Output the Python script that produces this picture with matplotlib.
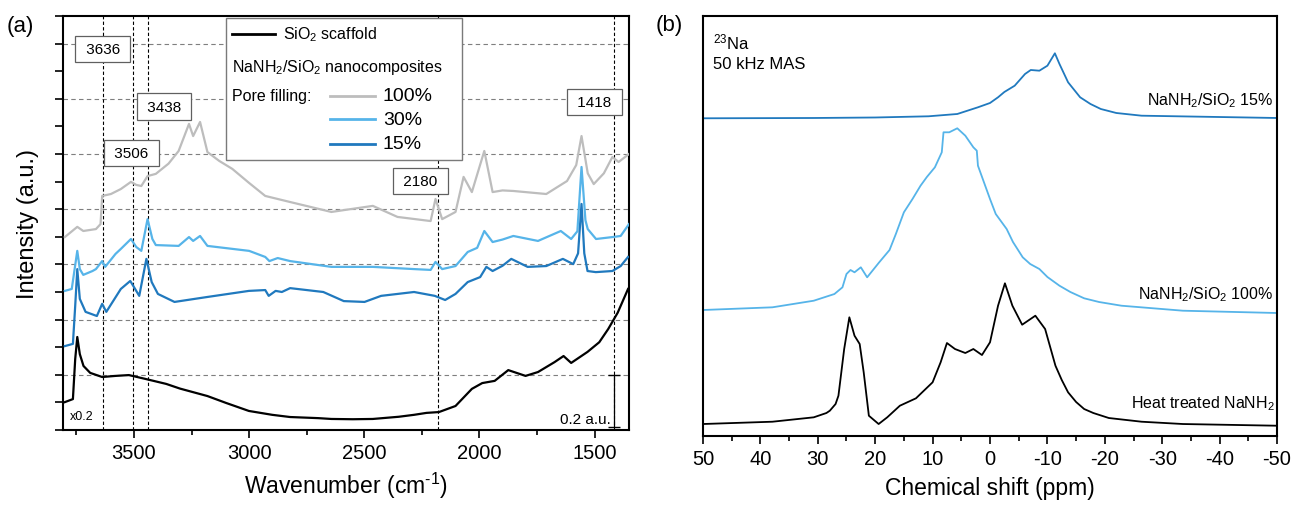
import matplotlib
matplotlib.use("Agg")
import matplotlib.pyplot as plt
from matplotlib.patches import Rectangle
from matplotlib.ticker import MultipleLocator, NullFormatter

plt.rcParams["font.family"] = ["Liberation Sans", "DejaVu Sans"]
plt.rcParams["mathtext.fontset"] = "custom"
plt.rcParams["mathtext.rm"] = "Liberation Sans"
plt.rcParams["mathtext.it"] = "Liberation Sans:italic"
plt.rcParams["axes.unicode_minus"] = False

# ---- panel (a): DRIFTS spectra -------------------------------------------
sio2_x = [3800, 3765, 3755, 3746, 3735, 3719, 3690, 3638, 3580, 3522, 3450,
          3360, 3300, 3181, 3100, 3001, 2900, 2822, 2700, 2643, 2550, 2463,
          2350, 2284, 2230, 2176, 2104, 2033, 1988, 1934, 1875, 1800, 1746,
          1674, 1635, 1602, 1531, 1480, 1441, 1400, 1355]
sio2_y = [0.101, 0.112, 0.257, 0.337, 0.275, 0.232, 0.207, 0.192, 0.196,
          0.199, 0.185, 0.167, 0.150, 0.123, 0.098, 0.069, 0.055, 0.047,
          0.043, 0.040, 0.039, 0.040, 0.048, 0.055, 0.062, 0.065, 0.087,
          0.149, 0.170, 0.178, 0.217, 0.196, 0.210, 0.246, 0.268, 0.243,
          0.283, 0.318, 0.366, 0.425, 0.511]

pf100_x = [3800, 3746, 3720, 3665, 3645, 3638, 3600, 3557, 3513, 3490, 3468,
           3441, 3405, 3350, 3306, 3261, 3243, 3213, 3181, 3130, 3073, 3000,
           2930, 2822, 2643, 2463, 2356, 2212, 2191, 2162, 2104, 2069, 2033,
           1979, 1943, 1900, 1853, 1710, 1620, 1580, 1557, 1530, 1504, 1460,
           1423, 1396, 1351]
pf100_y = [0.699, 0.736, 0.721, 0.728, 0.746, 0.848, 0.855, 0.873, 0.899,
           0.888, 0.884, 0.920, 0.928, 0.965, 1.011, 1.109, 1.065, 1.116,
           1.007, 0.975, 0.946, 0.895, 0.848, 0.826, 0.790, 0.812, 0.772,
           0.757, 0.837, 0.764, 0.790, 0.917, 0.862, 1.011, 0.862, 0.868,
           0.866, 0.855, 0.902, 0.960, 1.065, 0.930, 0.891, 0.930, 0.989,
           0.971, 1.000]

pf30_x = [3800, 3770, 3746, 3735, 3720, 3680, 3665, 3638, 3625, 3580, 3557,
          3513, 3490, 3468, 3441, 3420, 3405, 3306, 3261, 3243, 3213, 3181,
          3000, 2930, 2912, 2876, 2822, 2643, 2463, 2284, 2212, 2191, 2162,
          2104, 2051, 2010, 1979, 1943, 1900, 1853, 1746, 1647, 1602, 1575,
          1557, 1540, 1530, 1494, 1423, 1387, 1351]
pf30_y = [0.504, 0.511, 0.649, 0.583, 0.562, 0.576, 0.583, 0.612, 0.591,
          0.638, 0.656, 0.692, 0.663, 0.649, 0.764, 0.692, 0.670, 0.667,
          0.699, 0.685, 0.703, 0.667, 0.649, 0.627, 0.612, 0.623, 0.612,
          0.591, 0.591, 0.583, 0.580, 0.609, 0.583, 0.594, 0.645, 0.660,
          0.721, 0.681, 0.690, 0.703, 0.685, 0.721, 0.692, 0.720, 0.953,
          0.760, 0.728, 0.692, 0.699, 0.703, 0.746]

pf15_x = [3800, 3765, 3755, 3746, 3735, 3710, 3661, 3638, 3620, 3557, 3516,
          3477, 3446, 3423, 3396, 3324, 3181, 3001, 2930, 2915, 2885, 2858,
          2822, 2678, 2589, 2499, 2427, 2284, 2194, 2149, 2104, 2051, 1997,
          1970, 1943, 1900, 1862, 1791, 1710, 1638, 1593, 1572, 1557, 1545,
          1531, 1495, 1423, 1387, 1355]
pf15_y = [0.304, 0.312, 0.450, 0.583, 0.475, 0.428, 0.413, 0.457, 0.428,
          0.511, 0.540, 0.486, 0.620, 0.536, 0.493, 0.464, 0.482, 0.504,
          0.507, 0.486, 0.504, 0.500, 0.514, 0.500, 0.467, 0.464, 0.486,
          0.500, 0.486, 0.471, 0.493, 0.536, 0.554, 0.591, 0.576, 0.595,
          0.620, 0.591, 0.594, 0.620, 0.601, 0.640, 0.819, 0.640, 0.576,
          0.572, 0.576, 0.594, 0.627]

peak_lines = [3636, 3506, 3438, 2180, 1418]
peak_label_x = [3635, 3511, 3369, 2255, 1502]
peak_label_y = [1.379, 1.004, 1.172, 0.902, 1.188]

# ---- panel (b): 23Na MAS NMR ----------------------------------------------
heat_x = [50, 37.9, 30.7, 28.5, 27.9, 26.9, 26.4, 25.4, 24.5, 23.6, 22.7,
          22.0, 21.1, 19.4, 17.9, 15.7, 12.9, 10.0, 8.6, 7.5, 6.1, 4.3, 2.9,
          1.4, 0.0, -1.4, -2.6, -3.9, -5.6, -7.9, -9.6, -11.4, -12.5, -13.6,
          -15.0, -16.4, -18.0, -20.7, -26.4, -33.6, -50]
heat_y = [425, 422.7, 418.3, 414, 411.7, 405, 396.7, 350, 318.3, 336.7, 345,
          373.3, 416.7, 425, 418.3, 406.7, 399.3, 383.3, 363.3, 344, 350, 354,
          350, 356, 343.3, 306.7, 284.3, 306.7, 325.7, 316.7, 330, 366.7,
          381, 393.3, 403, 410, 414, 419, 422.7, 425, 426.7]

nmr100_x = [50, 37.9, 30.7, 27.1, 25.7, 25.0, 24.3, 23.6, 22.5, 21.4, 19.3,
            17.5, 16.4, 15.0, 13.5, 12.1, 11.0, 9.6, 8.4, 8.1, 7.1, 5.7, 4.3,
            2.9, 2.3, 2.1, 0.0, -1.0, -2.9, -4.0, -5.7, -7.0, -8.6, -10.0,
            -12.1, -14.0, -16.4, -19.0, -22.9, -33.6, -50]
nmr100_y = [311, 308.3, 301.7, 295, 288.3, 275, 271, 273.3, 268.3, 278.3,
            263.3, 251, 235, 213.3, 200, 186.7, 178, 168.3, 153.3, 133.3,
            133.3, 129.3, 136.7, 148.3, 151.7, 166.7, 200, 215, 230, 243,
            258.3, 265, 270, 278, 286.7, 293, 299.3, 303, 306.7, 311.7, 314]

nmr15_x = [50, 30.7, 20.0, 10.7, 5.7, 2.1, 0.0, -1.4, -2.5, -4.3, -6.1, -7.1,
           -8.6, -10.0, -11.3, -12.1, -13.6, -15.7, -17.5, -19.3, -22.0,
           -26.4, -50]
nmr15_y = [119.3, 119, 118.5, 117.3, 115, 108.3, 104, 98.3, 93, 86.7, 75, 71,
           71.7, 66.7, 54.3, 65, 83.3, 98.3, 105, 110, 114, 116.7, 119]

BLACK = "#000000"
GRAY = "#bdbdbd"
LIGHT = "#56b4e9"
DARK = "#2079be"


def nmr(vals):
    # pixel-like heights measured from the axis bottom
    return [(437 - v) / 100 for v in vals]


fig = plt.figure(figsize=(12.91, 5.10), dpi=100)
ax = fig.add_axes([0.0488, 0.1549, 0.4384, 0.8118])
bx = fig.add_axes([0.5445, 0.1431, 0.4447, 0.8236])

# panel (a)
for yv in [0.2, 0.4, 0.6, 0.8, 1.0, 1.2, 1.4]:
    ax.axhline(yv, color="#7f7f7f", lw=0.8, ls=(0, (4, 3)), zorder=1)
for xv in peak_lines:
    ax.axvline(xv, color="black", lw=0.8, ls=(0, (3, 2)), zorder=1)

ax.plot(pf100_x, pf100_y, color=GRAY, lw=1.6, zorder=3)
ax.plot(pf30_x, pf30_y, color=LIGHT, lw=1.6, zorder=4)
ax.plot(pf15_x, pf15_y, color=DARK, lw=1.6, zorder=5)
ax.plot(sio2_x, sio2_y, color=BLACK, lw=1.6, zorder=6)

for xv, lx, ly in zip(peak_lines, peak_label_x, peak_label_y):
    ax.text(lx, ly, f" {xv} ", fontsize=11, ha="center", va="center",
            zorder=8, bbox=dict(boxstyle="square,pad=0.4", fc="white",
                                ec="#606060", lw=0.9))

ax.set_xlim(3808, 1351)
ax.set_ylim(0, 1.5)
ax.xaxis.set_major_locator(MultipleLocator(500))
ax.xaxis.set_minor_locator(MultipleLocator(250))
ax.yaxis.set_major_locator(MultipleLocator(0.2))
ax.yaxis.set_minor_locator(MultipleLocator(0.1))
ax.yaxis.set_major_formatter(NullFormatter())
ax.tick_params(axis="x", which="major", length=6, width=1.2, labelsize=14.5,
               pad=3)
ax.tick_params(axis="x", which="minor", length=3.5, width=1.2)
ax.tick_params(axis="y", which="both", length=6, width=1.2)
for s in ax.spines.values():
    s.set_linewidth(1.5)
ax.set_xlabel(r"Wavenumber (cm$^{\text{-}1}$)", fontsize=16.5, labelpad=6)
ax.set_ylabel("Intensity (a.u.)", fontsize=17, labelpad=8)

ax.text(0.012, 0.035, "x0.2", transform=ax.transAxes, fontsize=9,
        ha="left", va="center")
ax.plot([1418, 1418], [0.01, 0.2], color="black", lw=0.9, marker="_",
        markersize=8, zorder=7)
ax.text(1430, 0.04, "0.2 a.u.", fontsize=11, ha="right", va="center")

# hand-built legend box
ax.add_patch(Rectangle((0.288, 0.652), 0.417, 0.343, transform=ax.transAxes,
                       fc="white", ec="#7a7a7a", lw=1.0, zorder=9))
ax.plot([0.298, 0.375], [0.957, 0.957], transform=ax.transAxes,
        color=BLACK, lw=2, zorder=10)
ax.text(0.389, 0.957, "SiO$_2$ scaffold", transform=ax.transAxes,
        fontsize=11.5, va="center", zorder=10)
ax.text(0.298, 0.879, "NaNH$_2$/SiO$_2$ nanocomposites",
        transform=ax.transAxes, fontsize=11.5, va="center", zorder=10)
ax.text(0.298, 0.807, "Pore filling:", transform=ax.transAxes,
        fontsize=11.5, va="center", zorder=10)
for col, lab, yy in [(GRAY, "100%", 0.807), (LIGHT, "30%", 0.751),
                     (DARK, "15%", 0.691)]:
    ax.plot([0.472, 0.552], [yy, yy], transform=ax.transAxes, color=col,
            lw=2, zorder=10)
    ax.text(0.565, yy, lab, transform=ax.transAxes, fontsize=14,
            va="center", zorder=10)

# panel (b)
bx.plot(nmr15_x, nmr(nmr15_y), color=DARK, lw=1.3)
bx.plot(nmr100_x, nmr(nmr100_y), color=LIGHT, lw=1.3)
bx.plot(heat_x, nmr(heat_y), color=BLACK, lw=1.3)
bx.set_xlim(50, -50)
bx.set_ylim(0, 4.2)
bx.xaxis.set_major_locator(MultipleLocator(10))
bx.xaxis.set_minor_locator(MultipleLocator(5))
bx.set_yticks([])
bx.tick_params(axis="x", which="major", length=6, width=1.2, labelsize=14.5,
               pad=3)
bx.tick_params(axis="x", which="minor", length=3.5, width=1.2)
for s in bx.spines.values():
    s.set_linewidth(1.5)
bx.set_xlabel("Chemical shift (ppm)", fontsize=16.5, labelpad=6)

bx.text(0.017, 0.940, "$^{23}$Na", transform=bx.transAxes, fontsize=12,
        va="center")
bx.text(0.017, 0.886, "50 kHz MAS", transform=bx.transAxes, fontsize=12,
        va="center")
bx.text(0.993, 0.802, "NaNH$_2$/SiO$_2$ 15%", transform=bx.transAxes,
        fontsize=11.5, ha="right", va="center")
bx.text(0.993, 0.338, "NaNH$_2$/SiO$_2$ 100%", transform=bx.transAxes,
        fontsize=11.5, ha="right", va="center")
bx.text(0.996, 0.079, "Heat treated NaNH$_2$", transform=bx.transAxes,
        fontsize=11.5, ha="right", va="center")

fig.text(0.005, 0.948, "(a)", fontsize=16, va="center")
fig.text(0.508, 0.950, "(b)", fontsize=16, va="center")

fig.savefig("out.png", dpi=100)
